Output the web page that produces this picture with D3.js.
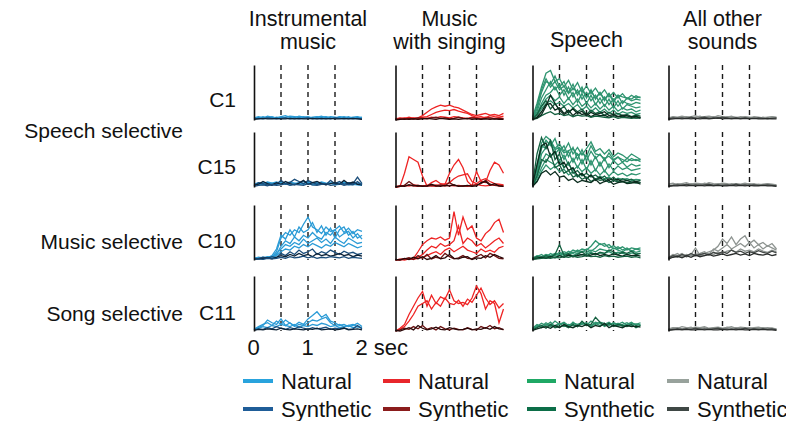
<!DOCTYPE html>
<html>
<head>
<meta charset="utf-8">
<script src="https://cdn.jsdelivr.net/npm/d3@7"></script>
<style>
  body { margin: 0; background: #fff; }
  text { font-family: "Liberation Sans", Arial, Helvetica, sans-serif; fill: #111; }
</style>
</head>
<body>
<div class="chart"></div>
<script>
// layout
const W = 786, H = 421;
const COL_X = [254, 395.5, 532.5, 668.5];
const ROW_TOP = [65, 132, 205, 276];
const PW = 108, PH = 55;

// labels
const columnTitles = [["Instrumental", "music"], ["Music", "with singing"], ["Speech"], ["All other", "sounds"]];
const components = ["C1", "C15", "C10", "C11"];
const componentY = [107, 174, 248, 320];
const groupLabels = [
  { text: "Speech selective", y: 138 },
  { text: "Music selective", y: 249 },
  { text: "Song selective", y: 321 }
];
const timeTicks = [0, 1, 2];
const dashTimes = [0.5, 1, 1.5];
const legendLabels = ["Natural", "Synthetic"];

// colours: [natural, synthetic] for lines and legend
const lineNat = ["#2b9bd6", "#ee2424", "#2f9470", "#8e9491"];
const lineSyn = [["#1b4d7a", "#0d2236"], ["#6a1212", "#2a0707"], ["#146040", "#0b2c1e"], ["#434846", "#2a2d2c"]];
const legNat = ["#29a3dd", "#e8262b", "#1fa865", "#98a29c"];
const legSyn = ["#1f5d98", "#8b1c1c", "#0c6e48", "#3f4845"];

// response time courses, 25 samples over 0-2 sec, % of panel height
// --- C1 ---
const instrC1Nat = [
  [4,6,3,7,5,4,6,8,5,4,7,5,6,4,5,7,4,6,5,3,6,4,5,6,4],
  [3,4,6,4,3,5,4,5,7,6,4,6,3,5,6,4,5,3,4,6,5,3,4,5,3],
  [2,5,4,3,6,3,5,4,3,5,6,4,5,3,4,5,6,4,3,5,4,6,3,4,5]
];
const instrC1Syn = [
  [2,3,2,4,3,2,3,4,2,3,2,3,4,2,3,2,3,2,4,3,2,3,2,3,2],
  [1,2,3,2,2,3,2,2,3,2,3,2,2,3,2,3,2,3,2,2,3,2,3,2,1]
];
const singC1Nat = [
  [2,4,3,5,3,4,8,14,20,24,27,25,27,24,22,18,14,10,8,10,12,9,10,8,12],
  [1,3,2,3,4,3,5,6,10,14,16,18,17,19,16,14,12,8,5,6,4,8,6,5,7],
  [3,2,4,2,3,2,4,3,5,4,6,5,4,6,5,4,3,5,4,3,5,4,3,4,3]
];
const singC1Syn = [
  [1,2,1,3,2,4,3,2,4,5,3,4,2,3,5,3,2,4,3,2,3,4,2,3,2],
  [0,1,2,1,2,1,2,3,2,1,3,2,1,2,1,2,3,1,2,1,2,1,2,1,1]
];
const speechC1Nat = [
  [5,30,60,85,90,70,75,60,72,55,68,50,62,48,58,45,55,42,50,40,48,38,45,40,42],
  [3,20,50,70,65,80,60,70,50,65,45,60,40,55,38,50,35,48,32,45,30,40,35,38,36],
  [4,15,40,55,70,55,65,45,60,42,55,38,50,35,45,30,42,28,38,25,35,30,28,32,30],
  [2,10,30,45,50,60,45,55,38,50,32,48,30,45,28,40,25,38,22,35,20,28,25,22,24],
  [3,12,25,38,45,35,42,30,40,28,38,25,32,22,30,20,28,18,25,16,22,18,20,15,18],
  [2,8,20,30,35,28,32,25,30,22,28,18,25,15,22,14,20,12,18,10,15,12,14,10,12],
  [4,25,55,75,60,70,55,62,48,58,50,55,42,52,40,50,38,48,36,45,42,40,38,44,40]
];
const speechC1Syn = [
  [2,10,25,35,20,30,18,25,12,22,15,20,10,18,12,15,8,14,10,12,8,10,6,9,7],
  [1,5,15,28,30,18,22,12,18,8,15,10,12,6,10,8,9,5,8,6,7,5,6,4,5],
  [1,3,8,12,15,10,12,8,10,6,9,7,8,5,7,6,5,4,6,3,5,4,3,4,3],
  [1,4,10,25,45,30,18,10,15,20,12,16,8,14,10,12,15,8,10,6,9,8,5,7,4]
];
const otherC1Nat = [
  [4,6,5,7,5,6,8,5,6,7,5,8,6,5,7,4,6,5,4,6,5,4,5,6,5],
  [3,5,4,5,6,4,5,7,4,5,6,5,4,6,5,5,4,6,5,4,3,5,4,5,4]
];
const otherC1Syn = [
  [2,4,3,4,3,5,3,4,5,3,4,3,5,4,3,4,3,4,3,3,4,3,2,3,4],
  [1,2,3,2,3,2,3,2,3,2,3,4,2,3,2,3,2,3,2,3,2,2,3,2,2]
];
// --- C15 ---
const instrC15Nat = [
  [5,8,6,9,7,6,8,7,9,6,8,10,7,8,6,9,7,6,8,7,9,6,8,7,6],
  [4,6,8,5,7,9,6,5,8,7,5,6,9,7,8,5,6,8,5,6,7,8,5,6,5],
  [3,5,4,6,5,4,7,6,4,5,7,5,6,4,5,6,5,7,4,5,6,4,5,4,3]
];
const instrC15Syn = [
  [2,8,6,4,3,5,12,6,8,14,10,6,12,8,5,7,4,12,6,10,5,8,6,18,6],
  [3,5,10,6,4,8,5,10,6,4,7,12,5,8,10,6,4,6,8,5,12,6,9,5,4],
  [1,3,4,2,5,3,4,6,3,5,4,3,6,4,3,5,6,3,4,6,3,5,4,10,3]
];
const singC15Nat = [
  [0,1,25,55,50,45,20,2,8,12,6,5,25,40,50,35,10,2,28,10,8,30,45,40,25],
  [1,2,3,2,4,3,2,3,2,4,3,5,8,15,20,22,24,10,6,12,15,10,6,5,4],
  [0,1,2,3,2,1,2,3,2,1,3,2,3,2,3,2,1,2,5,3,2,3,4,2,3]
];
const singC15Syn = [
  [0,1,3,10,4,1,2,1,3,2,4,2,8,3,2,1,2,3,4,6,12,5,3,2,1],
  [0,2,1,4,2,3,1,2,5,2,1,3,2,4,1,2,3,1,2,8,10,3,6,2,1]
];
const speechC15Nat = [
  [5,40,80,92,85,70,78,65,80,60,72,58,70,82,65,70,60,68,55,62,58,52,60,55,50],
  [3,30,70,85,75,88,65,75,55,72,50,68,48,65,52,60,48,62,50,55,45,52,48,50,46],
  [4,25,60,72,80,60,70,50,65,45,60,42,58,40,55,38,52,35,48,40,45,36,42,38,40],
  [2,20,45,60,55,65,48,58,40,52,35,50,32,48,30,45,28,42,30,38,32,35,30,32,34],
  [3,15,35,50,45,40,48,35,42,30,38,28,35,25,32,22,30,20,28,22,25,20,24,22,25],
  [2,10,28,40,32,38,28,32,22,28,18,25,16,22,14,20,15,18,12,16,14,15,12,14,13],
  [4,35,75,70,82,68,72,62,66,70,58,62,55,75,60,58,52,56,48,54,50,46,52,48,50]
];
const speechC15Syn = [
  [5,60,90,70,85,50,60,35,45,25,30,20,25,18,22,15,20,12,18,10,15,12,14,10,12],
  [3,40,75,80,55,65,40,45,30,35,20,25,15,22,12,18,10,15,12,14,10,12,9,10,8],
  [2,20,50,45,60,35,40,25,30,18,22,14,18,10,15,12,14,8,12,9,10,8,9,7,8],
  [1,10,25,30,22,28,18,20,12,15,8,12,10,8,14,6,10,12,5,8,10,6,7,9,5]
];
const otherC15Nat = [
  [5,7,4,6,8,5,7,6,5,8,6,5,7,6,4,6,5,7,5,6,4,5,6,5,4],
  [3,4,6,5,4,6,5,4,7,5,4,6,5,4,6,5,4,5,6,4,5,4,5,4,3]
];
const otherC15Syn = [
  [2,3,4,3,5,3,4,3,4,5,3,4,3,4,3,5,3,4,3,4,3,3,4,3,2],
  [1,2,2,3,2,3,2,3,2,3,2,3,2,2,3,2,3,2,3,2,2,3,2,2,1]
];
// --- C10 ---
const instrC10Nat = [
  [3,5,4,6,5,15,40,50,45,55,50,65,78,60,55,48,60,52,55,62,50,58,48,55,52],
  [4,3,5,4,8,20,45,38,55,42,60,50,55,68,50,62,45,58,40,55,60,45,52,40,45],
  [2,4,3,5,4,10,25,35,30,42,35,45,40,50,42,38,50,45,55,42,48,52,40,48,38],
  [3,2,4,3,6,12,20,28,25,32,28,38,30,35,40,32,38,30,42,35,30,40,35,30,32],
  [2,3,2,4,3,8,15,20,18,25,22,28,24,30,26,22,28,25,32,28,24,30,26,22,25]
];
const instrC10Syn = [
  [2,3,5,3,6,4,12,8,15,10,18,12,15,20,10,15,12,18,14,10,16,12,14,10,12],
  [1,2,3,4,2,5,8,6,10,7,12,8,10,6,12,8,10,7,9,12,8,10,6,9,7],
  [1,2,1,3,2,3,5,3,6,4,5,7,4,6,3,5,4,6,5,4,6,3,5,4,3]
];
const singC10Nat = [
  [0,1,2,1,3,15,28,35,40,38,42,36,40,88,45,78,55,62,40,35,48,55,68,74,50],
  [1,0,2,3,2,5,10,18,25,22,30,25,28,35,62,30,40,35,25,30,22,28,35,40,30],
  [0,1,0,2,1,3,5,8,12,15,10,18,22,15,20,25,18,15,12,20,15,18,14,22,25]
];
const singC10Syn = [
  [0,1,2,4,1,8,3,10,2,5,3,12,6,2,4,8,3,2,6,10,4,12,8,3,2],
  [1,0,3,1,5,2,6,1,3,8,2,4,10,3,2,5,6,1,4,3,8,5,10,6,3]
];
const speechC10Nat = [
  [3,8,6,10,8,12,10,15,12,18,15,20,18,25,35,28,30,22,26,20,24,18,22,20,18],
  [4,6,10,5,12,8,14,10,16,12,18,14,20,16,22,30,25,28,20,24,18,22,16,20,22],
  [2,5,4,8,6,10,8,12,10,14,12,16,14,18,15,20,18,16,22,18,15,20,17,14,16],
  [3,4,6,4,7,5,9,6,10,8,12,9,11,14,10,13,12,15,11,14,12,10,13,11,12]
];
const speechC10Syn = [
  [2,6,4,8,5,10,28,8,12,6,10,15,8,12,10,14,12,18,15,10,14,12,16,10,12],
  [1,3,5,3,6,4,8,5,9,6,8,10,7,9,12,8,10,8,11,9,7,10,8,9,7],
  [1,2,3,4,3,5,4,6,5,7,5,6,8,6,7,5,8,6,7,5,6,7,5,6,4]
];
const otherC10Nat = [
  [5,10,8,12,6,10,22,8,12,15,18,25,38,30,42,28,38,44,30,36,28,32,25,30,20],
  [3,8,12,6,10,8,10,12,15,10,20,16,22,28,20,25,30,24,32,22,28,20,26,22,18],
  [2,6,5,8,6,9,7,10,8,12,10,14,12,16,18,14,20,16,18,15,20,16,14,18,15]
];
const otherC10Syn = [
  [4,8,6,10,7,12,8,10,12,9,14,11,15,12,18,14,16,12,15,13,17,14,12,16,13],
  [2,5,7,4,8,5,9,6,8,10,7,9,11,8,10,12,9,11,8,12,10,9,11,8,10]
];
// --- C11 ---
const instrC11Nat = [
  [3,8,12,15,10,18,12,20,14,10,16,12,22,28,35,25,30,18,15,10,12,8,10,14,8],
  [2,6,10,20,15,12,22,10,15,8,12,10,15,20,18,22,25,15,10,12,8,10,12,8,6],
  [4,5,8,6,10,8,12,10,8,12,6,10,8,12,10,14,12,8,10,6,8,10,6,8,5]
];
const instrC11Syn = [
  [2,4,3,6,4,8,5,3,6,4,8,5,3,6,4,5,7,3,5,4,6,3,4,10,4],
  [1,3,2,4,3,2,5,3,2,4,3,2,4,3,5,2,3,4,2,3,5,2,3,4,2]
];
const singC11Nat = [
  [0,5,12,30,45,60,72,45,65,50,62,58,75,55,50,52,48,60,82,68,40,55,50,15,40],
  [0,3,8,18,30,45,50,55,40,52,45,60,50,48,56,45,58,52,65,78,60,48,55,42,50]
];
const singC11Syn = [
  [0,2,5,3,8,4,10,3,6,2,8,4,2,5,3,2,6,3,2,8,5,10,4,6,2],
  [1,0,3,6,2,10,5,2,4,7,3,2,6,4,2,3,5,2,4,3,6,3,8,4,3]
];
const speechC11Nat = [
  [5,12,8,15,10,18,12,16,10,14,12,15,10,18,12,16,14,10,15,12,16,10,14,12,15],
  [4,8,14,10,16,8,12,14,8,16,10,12,15,8,14,10,12,16,10,14,8,12,16,10,12],
  [3,10,6,12,8,10,14,8,12,10,8,14,12,10,16,14,8,12,14,10,12,15,10,13,10]
];
const speechC11Syn = [
  [2,6,10,5,12,6,8,10,6,12,8,18,10,12,25,16,10,14,8,12,10,8,12,6,10],
  [1,4,6,8,5,10,6,12,8,6,10,8,12,6,10,8,14,6,10,8,6,10,8,9,7]
];
const otherC11Nat = [
  [4,6,5,8,6,5,7,6,8,5,6,7,5,6,8,5,7,6,5,6,7,5,6,5,4],
  [3,5,6,4,5,7,4,5,6,4,5,6,4,7,5,6,4,5,6,4,5,6,4,5,3]
];
const otherC11Syn = [
  [2,3,4,3,4,3,5,3,4,3,4,5,3,4,3,4,3,5,3,4,3,4,3,4,2],
  [1,2,3,2,3,2,2,3,2,3,2,2,3,2,3,2,3,2,2,3,2,3,2,2,1]
];

const panels = [
  [instrC1Nat, instrC1Syn, singC1Nat, singC1Syn, speechC1Nat, speechC1Syn, otherC1Nat, otherC1Syn],
  [instrC15Nat, instrC15Syn, singC15Nat, singC15Syn, speechC15Nat, speechC15Syn, otherC15Nat, otherC15Syn],
  [instrC10Nat, instrC10Syn, singC10Nat, singC10Syn, speechC10Nat, speechC10Syn, otherC10Nat, otherC10Syn],
  [instrC11Nat, instrC11Syn, singC11Nat, singC11Syn, speechC11Nat, speechC11Syn, otherC11Nat, otherC11Syn]
];

const xScale = d3.scaleLinear().domain([0, 2]).range([0, PW]);
const yScale = d3.scaleLinear().domain([0, 100]).range([PH, 0]);
const line = d3.line()
  .x((d, i) => xScale(i / 12))
  .y((d) => yScale(d));

const svg = d3.select(".chart").append("svg")
  .attr("width", W).attr("height", H);

// column titles
columnTitles.forEach((lines, c) => {
  const cx = COL_X[c] + PW / 2;
  const base = lines.length === 1 ? [46.5] : [26, 48.5];
  lines.forEach((t, k) => {
    svg.append("text")
      .attr("x", cx).attr("y", base[k])
      .attr("text-anchor", "middle")
      .style("font-size", "21.5px")
      .text(t);
  });
});

// row labels
components.forEach((name, r) => {
  svg.append("text")
    .attr("x", 236).attr("y", componentY[r])
    .attr("text-anchor", "end")
    .style("font-size", "21px")
    .text(name);
});
groupLabels.forEach((g) => {
  svg.append("text")
    .attr("x", 183).attr("y", g.y)
    .attr("text-anchor", "end")
    .style("font-size", "21px")
    .text(g.text);
});

// panels
panels.forEach((row, r) => {
  for (let c = 0; c < 4; c++) {
    const g = svg.append("g")
      .attr("transform", `translate(${COL_X[c]},${ROW_TOP[r]})`);

    g.selectAll(".dash")
      .data(dashTimes)
      .enter()
      .append("line")
      .attr("x1", (d) => xScale(d)).attr("x2", (d) => xScale(d))
      .attr("y1", 0).attr("y2", PH)
      .style("stroke", "#1a1a1a")
      .style("stroke-width", 1.4)
      .style("stroke-dasharray", "5,4");

    const nat = row[c * 2], syn = row[c * 2 + 1];
    g.selectAll(".nat")
      .data(nat)
      .enter()
      .append("path")
      .attr("d", line)
      .style("fill", "none")
      .style("stroke", lineNat[c])
      .style("stroke-width", 1.3);

    g.selectAll(".syn")
      .data(syn)
      .enter()
      .append("path")
      .attr("d", line)
      .style("fill", "none")
      .style("stroke", (d, i) => lineSyn[c][i % 2])
      .style("stroke-width", 1.3);

    // y axis line
    g.append("g")
      .call(d3.axisLeft(yScale).tickValues([]).tickSizeOuter(0))
      .call((a) => a.select(".domain").style("stroke", "#111").style("stroke-width", 1.6));
  }
});

// time axis under bottom-left panel
const xAxis = d3.axisBottom(xScale)
  .tickValues(timeTicks)
  .tickSize(0)
  .tickFormat((d) => (d === 2 ? "2 sec" : d));
svg.append("g")
  .attr("transform", `translate(${COL_X[0]},${ROW_TOP[3] + PH + 5})`)
  .call(xAxis)
  .call((a) => a.select(".domain").remove())
  .call((a) => a.selectAll("text")
    .style("font-size", "22px")
    .style("font-family", '"Liberation Sans", Arial, sans-serif')
    .style("fill", "#111")
    .attr("text-anchor", (d) => (d === 2 ? "start" : "middle"))
    .attr("dx", (d) => (d === 2 ? -7 : -1)));

// legend
const legX = [243, 383, 527, 667];
const legTextX = [281, 418, 564, 697];
const legY = [381, 409];
for (let c = 0; c < 4; c++) {
  [legNat[c], legSyn[c]].forEach((col, k) => {
    svg.append("line")
      .attr("x1", legX[c]).attr("x2", legTextX[c] - 8)
      .attr("y1", legY[k]).attr("y2", legY[k])
      .style("stroke", col)
      .style("stroke-width", 4);
    svg.append("text")
      .attr("x", legTextX[c]).attr("y", legY[k] + 7.5)
      .style("font-size", "22px")
      .text(legendLabels[k]);
  });
}
</script>
</body>
</html>
